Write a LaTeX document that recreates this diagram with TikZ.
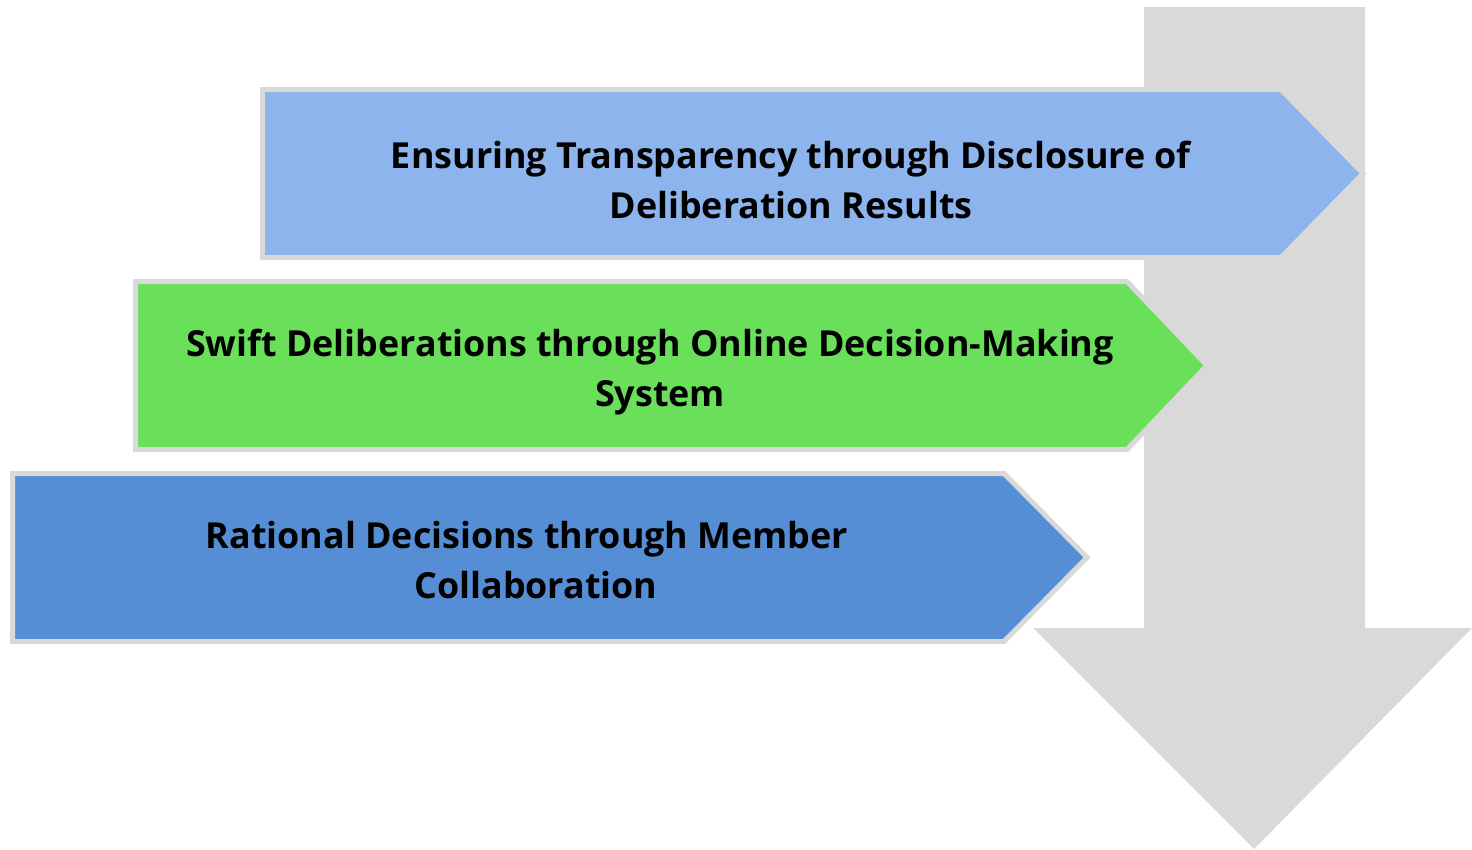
\documentclass[tikz,border=0pt]{standalone}
\usepackage{fontspec}
\setmainfont{Open Sans}
\definecolor{bggray}{RGB}{217,217,217}
\definecolor{edgegray}{RGB}{217,217,217}
\definecolor{lightblue}{RGB}{141,180,236}
\definecolor{brightgreen}{RGB}{106,224,90}
\definecolor{midblue}{RGB}{85,142,213}
\tikzset{
  steparrow/.style={draw=edgegray, line width=5bp, line join=miter},
  steptext/.style={font=\fontsize{36}{50}\selectfont\bfseries, align=center, text=black, inner sep=0pt}
}
\begin{document}
\begin{tikzpicture}[x=1bp,y=-1bp]
\useasboundingbox (0,0) rectangle (1472,849);
% big downward arrow
\fill[bggray] (1144,7) -- (1365,7) -- (1365,628) -- (1472,628) -- (1254,849) -- (1033,628) -- (1144,628) -- cycle;
% step arrows
\draw[steparrow, fill=lightblue] (262.5,89.5) -- (1281,89.5) -- (1363,173.5) -- (1281,257.5) -- (262.5,257.5) -- cycle;
\draw[steparrow, fill=brightgreen] (135.5,281.5) -- (1127,281.5) -- (1207,365.5) -- (1127,449.5) -- (135.5,449.5) -- cycle;
\draw[steparrow, fill=midblue] (12.5,473.5) -- (1004,473.5) -- (1087,557.5) -- (1004,641.5) -- (12.5,641.5) -- cycle;
% texts
\node[steptext] (t1) at (791,180) {Ensuring Transparency through Disclosure of\\Deliberation Results};
\node[steptext] (t2) at (650,372) {Swift Deliberations through Online Decision-Making\\\hspace*{20bp}System};
\node[steptext] (t3) at (527,560) {Rational Decisions through Member\\\hspace*{18bp}Collaboration};
\end{tikzpicture}
\end{document}
